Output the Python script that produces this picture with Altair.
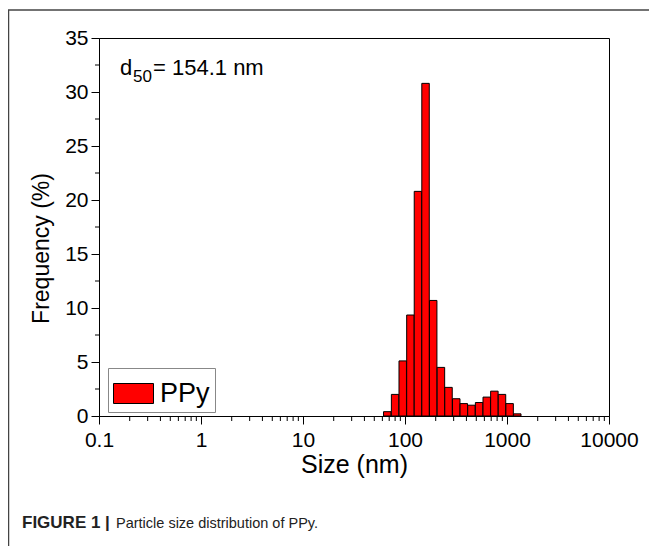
import altair as alt
import pandas as pd

# ---- data ----
sizes = [67, 80, 95, 113, 134, 159, 189, 225, 267, 318, 377, 448, 533, 633, 752, 893, 1061, 1261]
freq = [0.4, 2.0, 5.1, 9.35, 20.8, 30.8, 10.7, 4.5, 2.65, 1.6, 1.15, 1.0, 1.25, 1.75, 2.3, 2.0, 1.15, 0.2]
series_name = "PPy"
x_major = [0.1, 1, 10, 100, 1000, 10000]
y_major = [0, 5, 10, 15, 20, 25, 30, 35]
x_minor = [m * 10.0 ** e for e in range(-1, 4) for m in range(2, 10)]
y_minor = [2.5, 7.5, 12.5, 17.5, 22.5, 27.5, 32.5]

FONT = "Liberation Sans, Arial, sans-serif"
W, H = 510, 378

df = pd.DataFrame({"size": sizes, "freq": freq, "series": [series_name] * len(sizes)})

xscale = alt.Scale(type="log", domain=[0.1, 10000], nice=False)
yscale = alt.Scale(domain=[0, 35], nice=False, zero=True)

bars = (
    alt.Chart(df)
    .transform_calculate(lo="datum.size / 1.088", hi="datum.size * 1.088")
    .mark_bar(stroke="black", strokeWidth=1)
    .encode(
        x=alt.X(
            "lo:Q",
            scale=xscale,
            axis=alt.Axis(
                values=x_major, format="~g", title="Size (nm)", tickSize=8,
                labelPadding=5, titlePadding=2, labelFontSize=21, titleFontSize=25,
                grid=False, labelFlush=False,
            ),
        ),
        x2="hi:Q",
        y=alt.Y(
            "freq:Q",
            scale=yscale,
            stack=None,
            axis=alt.Axis(
                values=y_major, title="Frequency (%)", tickSize=8, labelPadding=3,
                titlePadding=11, labelFontSize=21, titleFontSize=23, grid=False,
                titleY=210,
            ),
        ),
        y2=alt.datum(0),
        color=alt.Color(
            "series:N",
            scale=alt.Scale(range=["#ff0000"]),
            legend=alt.Legend(
                title=None, orient="none", legendX=9, legendY=330,
                symbolType="M-1,-0.5H1V0.5H-1Z", symbolSize=1600,
                symbolStrokeColor="black", symbolStrokeWidth=1, symbolFillColor="#ff0000",
                labelFontSize=27, labelFont=FONT, labelOffset=6, padding=5,
                strokeColor="#888888", fillColor="white",
            ),
        ),
    )
)

xminor_df = pd.DataFrame({"v": x_minor})
xminor = alt.Chart(xminor_df).mark_rule(color="black", strokeWidth=1).encode(
    x=alt.X("v:Q", scale=xscale),
    y=alt.value(H),
    y2=alt.value(H + 5),
)

yminor_df = pd.DataFrame({"v": y_minor})
yminor = alt.Chart(yminor_df).mark_rule(color="black", strokeWidth=1).encode(
    y=alt.Y("v:Q", scale=yscale),
    x=alt.value(-4),
    x2=alt.value(0),
)

one = pd.DataFrame({"k": [0]})

ann_d = alt.Chart(one).mark_text(text="d", fontSize=22, font=FONT, align="left", baseline="alphabetic").encode(
    x=alt.value(21), y=alt.value(37))
ann_sub = alt.Chart(one).mark_text(text="50", fontSize=17, font=FONT, align="left", baseline="alphabetic").encode(
    x=alt.value(34), y=alt.value(44))
ann_rest = alt.Chart(one).mark_text(text="= 154.1 nm", fontSize=22, font=FONT, align="left", baseline="alphabetic").encode(
    x=alt.value(54), y=alt.value(37))

cap_bold = alt.Chart(one).mark_text(text="FIGURE 1 |", fontSize=17, fontWeight="bold", font=FONT,
                                    align="left", baseline="alphabetic", color="#222").encode(
    x=alt.value(-77), y=alt.value(490))
cap_rest = alt.Chart(one).mark_text(text="Particle size distribution of PPy.", fontSize=14.5, font=FONT,
                                    align="left", baseline="alphabetic", color="#222").encode(
    x=alt.value(17), y=alt.value(490))

frame_left = alt.Chart(one).mark_rule(color="#444", strokeWidth=1.5).encode(
    x=alt.value(-90.5), y=alt.value(-28), y2=alt.value(520))
frame_top = alt.Chart(one).mark_rule(color="#444", strokeWidth=1.5).encode(
    x=alt.value(-91), x2=alt.value(560), y=alt.value(-28))

chart = (
    alt.layer(frame_left, frame_top, bars, xminor, yminor, ann_d, ann_sub, ann_rest, cap_bold, cap_rest)
    .properties(
        width=W, height=H,
        padding={"left": 91, "top": 30, "right": 40, "bottom": 130},
        autosize=alt.AutoSizeParams(type="none"),
        background="white",
    )
    .configure_view(stroke="black", strokeWidth=1)
    .configure_axis(
        domainColor="black", tickColor="black", labelColor="black", titleColor="black",
        labelFont=FONT, titleFont=FONT, titleFontWeight="normal", domainWidth=1, tickWidth=1,
    )
)

chart.save("out.html", embed_options={"renderer": "svg", "actions": False})
